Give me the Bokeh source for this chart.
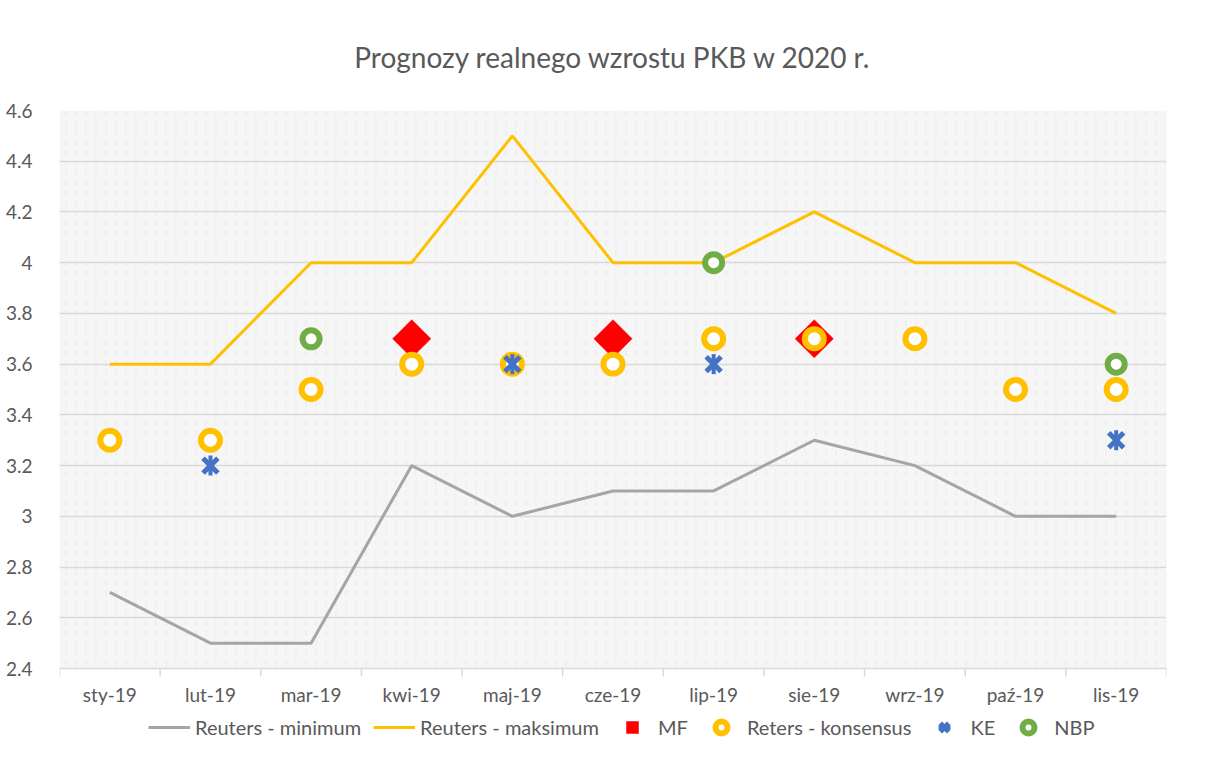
import math
from bokeh.plotting import figure
from bokeh.models import (Range1d, FixedTicker, CustomJSTickFormatter, BoxAnnotation,
                          Legend, LegendItem, ColumnDataSource)
from bokeh.core.properties import value
from bokeh.embed import file_html
from bokeh.resources import INLINE

months = ["sty-19", "lut-19", "mar-19", "kwi-19", "maj-19", "cze-19",
          "lip-19", "sie-19", "wrz-19", "paź-19", "lis-19"]
reuters_min = [2.7, 2.5, 2.5, 3.2, 3.0, 3.1, 3.1, 3.3, 3.2, 3.0, 3.0]
reuters_max = [3.6, 3.6, 4.0, 4.0, 4.5, 4.0, 4.0, 4.2, 4.0, 4.0, 3.8]
mf = [None, None, None, 3.7, None, 3.7, None, 3.7, None, None, None]
konsensus = [3.3, 3.3, 3.5, 3.6, 3.6, 3.6, 3.7, 3.7, 3.7, 3.5, 3.5]
ke = [None, 3.2, None, None, 3.6, None, 3.6, None, None, None, 3.3]
nbp = [None, None, 3.7, None, None, None, 4.0, None, None, None, 3.6]
y_ticks = [2.4, 2.6, 2.8, 3.0, 3.2, 3.4, 3.6, 3.8, 4.0, 4.2, 4.4, 4.6]
title_text = "Prognozy realnego wzrostu PKB w 2020 r."

FONT = "Lato"
TXT = "#595959"
Y_MIN, Y_MAX = y_ticks[0], y_ticks[-1]

# layout: plot area 558px tall for the data range; frame extended below for labels/legend
AREA_H = 558
FRAME_H = 632
px_per_unit = AREA_H / (Y_MAX - Y_MIN)
y_bottom = Y_MAX - FRAME_H / px_per_unit

xc = [i + 0.5 for i in range(len(months))]
bounds = list(range(len(months) + 1))

def pts(vals):
    xs = [x for x, v in zip(xc, vals) if v is not None]
    ys = [v for v in vals if v is not None]
    return ColumnDataSource(dict(x=xs, y=ys))

p = figure(frame_width=1107, frame_height=FRAME_H, output_backend="svg", toolbar_location=None,
           x_range=Range1d(0, len(months)), y_range=Range1d(y_bottom, Y_MAX),
           min_border_left=59, min_border_right=22, min_border_top=110, min_border_bottom=0)
p.outline_line_color = None
p.background_fill_color = "white"
p.border_fill_color = "white"

p.title.text = title_text
p.title.align = "center"
p.title.text_font = FONT
p.title.text_font_size = "28px"
p.title.text_font_style = "normal"
p.title.text_color = TXT
p.title.standoff = 73

bg = BoxAnnotation(left=0, right=len(months), bottom=Y_MIN, top=Y_MAX, level="image",
                   fill_color="#f6f6f6", fill_alpha=1.0, line_color=None,
                   hatch_pattern=":", hatch_color="#e9e9e9", hatch_scale=10,
                   hatch_weight=1, hatch_alpha=1.0)
p.add_layout(bg)

# x axis drawn as text + tick segments at the bottom of the data area
p.xaxis.visible = False
p.segment(x0=bounds, y0=[Y_MIN] * len(bounds), x1=bounds,
          y1=[Y_MIN - 8 / px_per_unit] * len(bounds), line_color="#d9d9d9", line_width=1.5)
p.text(x=xc, y=[Y_MIN] * len(xc), text=months, y_offset=26,
       text_align="center", text_baseline="middle", text_font=value(FONT),
       text_font_size="19px", text_color=TXT)

# y axis
p.yaxis.ticker = FixedTicker(ticks=y_ticks)
p.yaxis.formatter = CustomJSTickFormatter(code="return (Math.round(tick*10)/10).toString();")
p.yaxis.axis_line_color = None
p.yaxis.major_tick_line_color = None
p.yaxis.minor_tick_line_color = None
p.yaxis.major_label_standoff = 21
p.yaxis.major_label_text_align = "right"
p.yaxis.major_label_text_font = FONT
p.yaxis.major_label_text_font_size = "19px"
p.yaxis.major_label_text_color = TXT

p.xgrid.grid_line_color = None
p.ygrid.ticker = FixedTicker(ticks=y_ticks)
p.ygrid.grid_line_color = "#d9d9d9"
p.ygrid.grid_line_width = 1.5

r_min = p.line(xc, reuters_min, line_color="#a5a5a5", line_width=3)
r_max = p.line(xc, reuters_max, line_color="#ffc000", line_width=3)
r_mf = p.scatter("x", "y", source=pts(mf), marker="square", angle=math.pi / 4,
                 size=27, fill_color="#ff0000", line_color="#ff0000", line_width=0.5)
r_kon = p.scatter("x", "y", source=pts(konsensus), marker="circle", size=19,
                  fill_color="white", line_color="#ffc000", line_width=6)
ke_src = pts(ke)
r_ke1 = p.scatter("x", "y", source=ke_src, marker="x", size=21,
                  line_color="#4472c4", line_width=5)
r_ke2 = p.scatter("x", "y", source=ke_src, marker="dash", angle=math.pi / 2, size=20,
                  line_color="#4472c4", line_width=4)
r_nbp = p.scatter("x", "y", source=pts(nbp), marker="circle", size=17,
                  fill_color="white", line_color="#70ad47", line_width=6)

legend = Legend(items=[
    LegendItem(label="Reuters - minimum", renderers=[r_min]),
    LegendItem(label="Reuters - maksimum", renderers=[r_max]),
    LegendItem(label="MF", renderers=[r_mf]),
    LegendItem(label="Reters - konsensus", renderers=[r_kon]),
    LegendItem(label="KE", renderers=[r_ke1, r_ke2]),
    LegendItem(label="NBP", renderers=[r_nbp]),
], orientation="horizontal", location=(89, 0))
legend.label_text_font = FONT
legend.label_text_font_size = "20px"
legend.label_text_color = TXT
legend.border_line_color = None
legend.background_fill_alpha = 0
legend.glyph_width = 42
legend.glyph_height = 30
legend.label_height = 30
legend.label_standoff = 5
legend.spacing = 12
legend.padding = 0
legend.margin = 0
p.add_layout(legend, "center")

open("out.html", "w").write(file_html(p, INLINE))
